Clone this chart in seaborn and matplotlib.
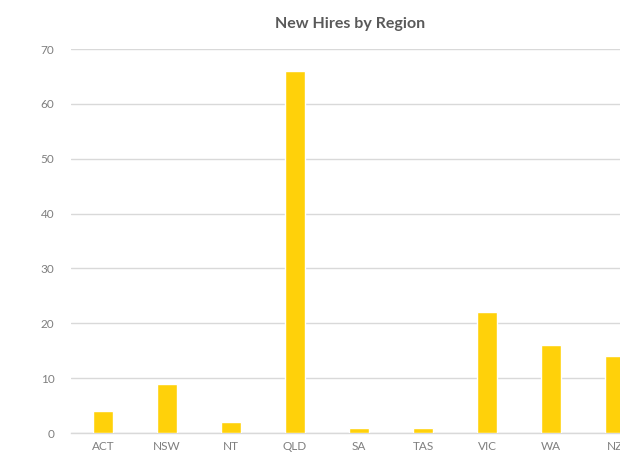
import matplotlib
matplotlib.use("Agg")
import matplotlib.pyplot as plt
import seaborn as sns
import pandas as pd

regions = ["ACT", "NSW", "NT", "QLD", "SA", "TAS", "VIC", "WA", "NZ"]
new_hires = [4, 9, 2, 66, 1, 1, 22, 16, 14]
y_ticks = [0, 10, 20, 30, 40, 50, 60, 70]
title = "New Hires by Region"

df = pd.DataFrame({"Region": regions, "New Hires": new_hires})

sns.set_theme(style="white")
plt.rcParams["font.family"] = ["Lato", "DejaVu Sans"]

fig = plt.figure(figsize=(6.2, 4.59), dpi=100)
ax = fig.add_axes([71 / 620, 1 - 433 / 459, (647 - 71) / 620, (433 - 49) / 459])

sns.barplot(data=df, x="Region", y="New Hires", color="#FFD10A",
            saturation=1, width=0.31, ax=ax, zorder=3)

ax.set_ylim(0, 70)
ax.set_xlim(-0.5, len(regions) - 0.5)
ax.set_yticks(y_ticks)
ax.yaxis.grid(True, color="#D9D9D9", linewidth=1, zorder=0)
ax.xaxis.grid(False)
ax.set_axisbelow(True)
for s in ["top", "right", "left"]:
    ax.spines[s].set_visible(False)
ax.spines["bottom"].set_color("#D9D9D9")
ax.spines["bottom"].set_linewidth(1)
ax.set_xlabel("")
ax.set_ylabel("")
ax.tick_params(axis="both", length=0, labelsize=8.5, labelcolor="#7F7F7F")
ax.tick_params(axis="y", pad=12)
ax.tick_params(axis="x", pad=6)

fig.text(350 / 620, 1 - 24 / 459, title, ha="center", va="center",
         fontsize=11.5, fontweight="bold", color="#595959")

fig.savefig("out.png", dpi=100)
